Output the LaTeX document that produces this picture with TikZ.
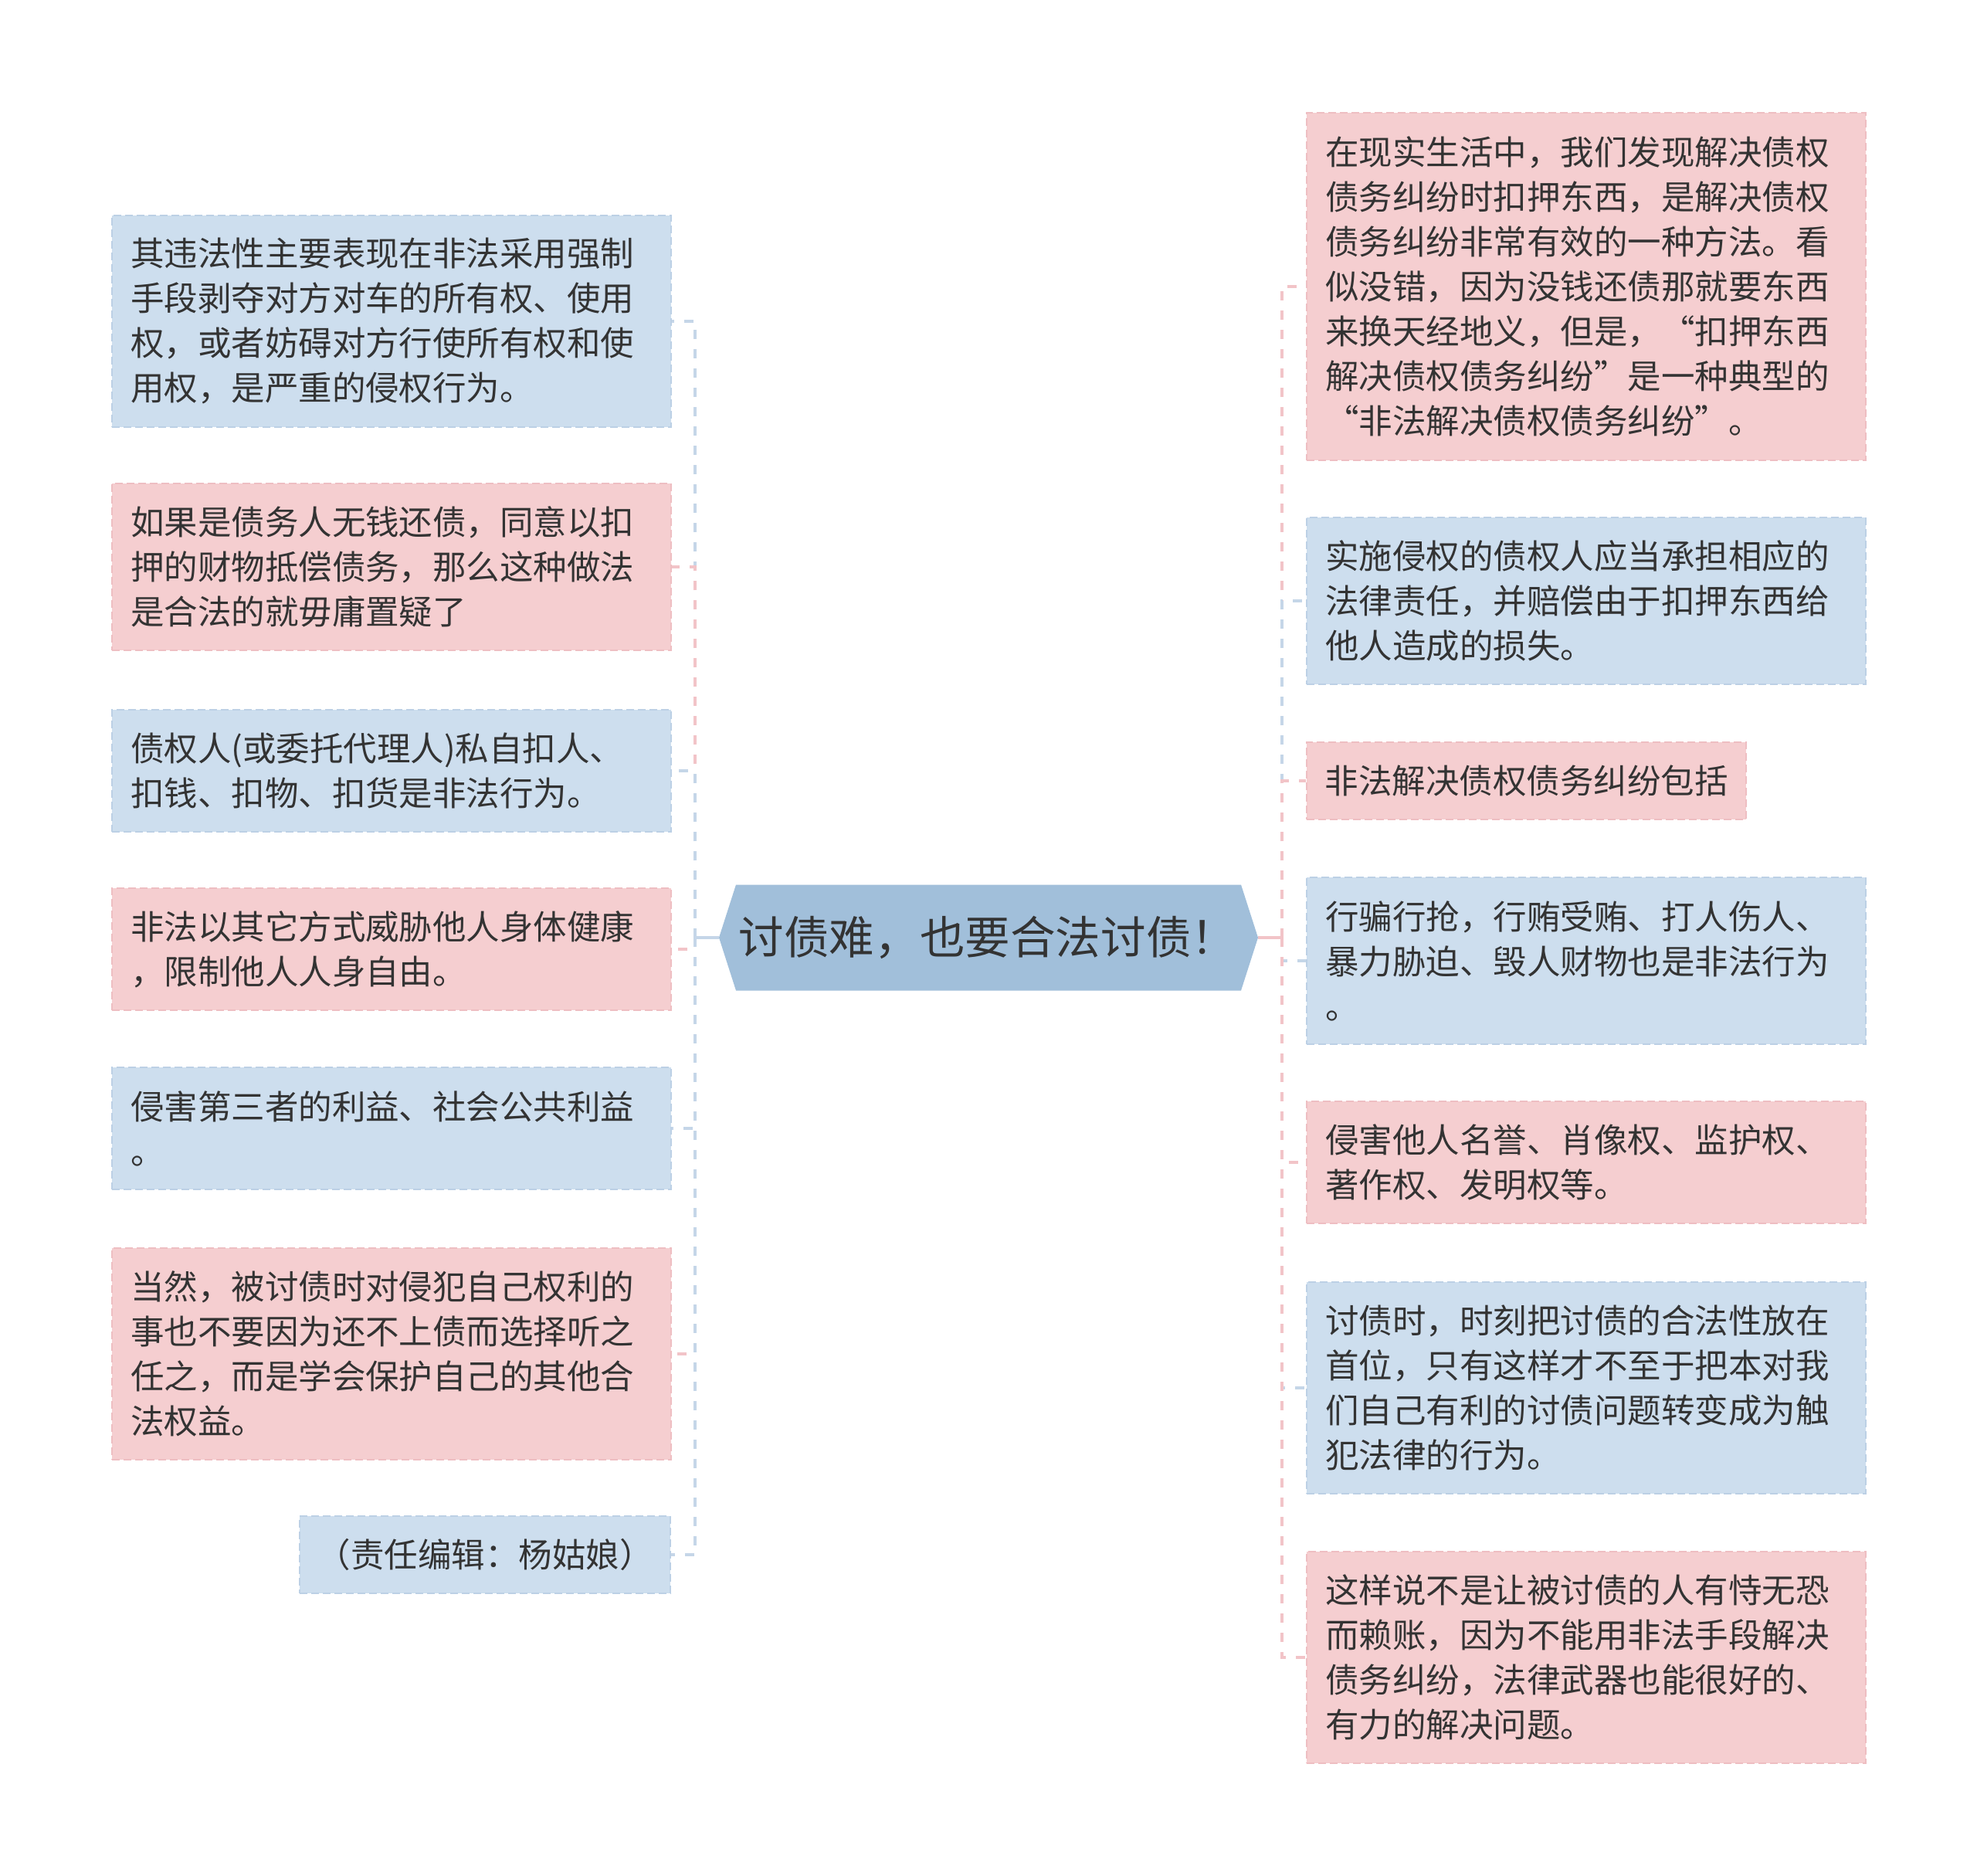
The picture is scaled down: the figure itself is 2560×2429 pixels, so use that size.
\documentclass[tikz,border=0pt]{standalone}
\usepackage{fontspec}
\newfontfamily\cjk{Noto Sans CJK SC}
\definecolor{bfill}{RGB}{205,222,238}
\definecolor{pfill}{RGB}{245,206,208}
\definecolor{bedge}{RGB}{188,208,229}
\definecolor{pedge}{RGB}{238,190,194}
\definecolor{bline}{RGB}{197,214,232}
\definecolor{pline}{RGB}{242,196,200}
\definecolor{cfill}{RGB}{161,191,218}
\definecolor{tcol}{RGB}{51,51,51}
\tikzset{
  card/.style={anchor=north west, align=left, text=tcol, inner xsep=12pt, inner ysep=0pt,
    text width=338pt, minimum width=362pt, line width=1pt, dash pattern=on 5pt off 2.5pt,
    font={\cjk\fontsize{21.75pt}{29pt}\selectfont}},
  shortcard/.style={card, align=center, text width=, inner xsep=0pt},
  bcard/.style={card, fill=bfill, draw=bedge},
  pcard/.style={card, fill=pfill, draw=pedge},
  conn/.style={line width=2pt, dash pattern=on 6pt off 6.5pt},
  solidconn/.style={line width=2pt},
  root/.style={minimum width=349pt, minimum height=68.5pt, inner sep=0pt, text=tcol,
    font={\cjk\fontsize{29.3pt}{35pt}\selectfont},
    path picture={\fill[cfill] (path picture bounding box.west)
      -- ([xshift=11pt]path picture bounding box.north west)
      -- ([xshift=-11pt]path picture bounding box.north east)
      -- (path picture bounding box.east)
      -- ([xshift=-11pt]path picture bounding box.south east)
      -- ([xshift=11pt]path picture bounding box.south west) -- cycle;}}
}
\begin{document}
\begin{tikzpicture}[x=0.5pt,y=-0.5pt]
\path[use as bounding box, fill=white] (0,0) rectangle (2560,2429);

\node[root] (C) at (1280,1214) {\hspace*{-1pt}讨债难，也要合法讨债！};
\coordinate (JL) at (900,1214);
\coordinate (JR) at (1660,1214);

% left
\node[bcard, minimum height=137pt] (L1) at (144,278) {其违法性主要表现在非法采用强制\\手段剥夺对方对车的所有权、使用\\权，或者妨碍对方行使所有权和使\\用权，是严重的侵权行为。};
\node[pcard, minimum height=108pt] (L2) at (144,625) {如果是债务人无钱还债，同意以扣\\押的财物抵偿债务，那么这种做法\\是合法的就毋庸置疑了};
\node[bcard, minimum height=79pt] (L3) at (144,918) {债权人(或委托代理人)私自扣人、\\扣钱、扣物、扣货是非法行为。};
\node[pcard, minimum height=79pt] (L4) at (144,1149) {非法以其它方式威胁他人身体健康\\，限制他人人身自由。};
\node[bcard, minimum height=79pt] (L5) at (144,1381) {侵害第三者的利益、社会公共利益\\。};
\node[pcard, minimum height=137pt] (L6) at (144,1615) {当然，被讨债时对侵犯自己权利的\\事也不要因为还不上债而选择听之\\任之，而是学会保护自己的其他合\\法权益。};
\node[bcard, shortcard, minimum width=240pt, minimum height=50pt] (L7) at (387,1962) {（责任编辑：杨姑娘）};

% right
\node[pcard, minimum height=225pt] (R1) at (1691,145) {在现实生活中，我们发现解决债权\\债务纠纷时扣押东西，是解决债权\\债务纠纷非常有效的一种方法。看\\似没错，因为没钱还债那就要东西\\来换天经地义，但是，“扣押东西\\解决债权债务纠纷”是一种典型的\\“非法解决债权债务纠纷”。};
\node[bcard, minimum height=108pt] (R2) at (1691,669) {实施侵权的债权人应当承担相应的\\法律责任，并赔偿由于扣押东西给\\他人造成的损失。};
\node[pcard, shortcard, minimum width=284.5pt, minimum height=50pt] (R3) at (1691,960) {非法解决债权债务纠纷包括};
\node[bcard, minimum height=108pt] (R4) at (1691,1135) {行骗行抢，行贿受贿、打人伤人、\\暴力胁迫、毁人财物也是非法行为\\。};
\node[pcard, minimum height=79pt] (R5) at (1691,1425) {侵害他人名誉、肖像权、监护权、\\著作权、发明权等。};
\node[bcard, minimum height=137pt] (R6) at (1691,1659) {讨债时，时刻把讨债的合法性放在\\首位，只有这样才不至于把本对我\\们自己有利的讨债问题转变成为触\\犯法律的行为。};
\node[pcard, minimum height=137pt] (R7) at (1691,2008) {这样说不是让被讨债的人有恃无恐\\而赖账，因为不能用非法手段解决\\债务纠纷，法律武器也能很好的、\\有力的解决问题。};

% connectors left
\draw[conn, bline] (JL) |- (L1.east);
\draw[conn, pline] (JL) |- (L2.east);
\draw[conn, bline] (JL) |- (L3.east);
\draw[conn, pline] (JL) |- (L4.east);
\draw[conn, bline] (JL) |- (L5.east);
\draw[conn, pline] (JL) |- (L6.east);
\draw[conn, bline] (JL) |- (L7.east);
\draw[solidconn, bline] (C.west) -- (JL);

% connectors right
\draw[conn, pline] (JR) |- (R1.west);
\draw[conn, bline] (JR) |- (R2.west);
\draw[conn, pline] (JR) |- (R3.west);
\draw[conn, bline] (JR) |- (R4.west);
\draw[conn, pline] (JR) |- (R5.west);
\draw[conn, bline] (JR) |- (R6.west);
\draw[conn, pline] (JR) |- (R7.west);
\draw[solidconn, pline] (C.east) -- (JR);
\end{tikzpicture}
\end{document}
